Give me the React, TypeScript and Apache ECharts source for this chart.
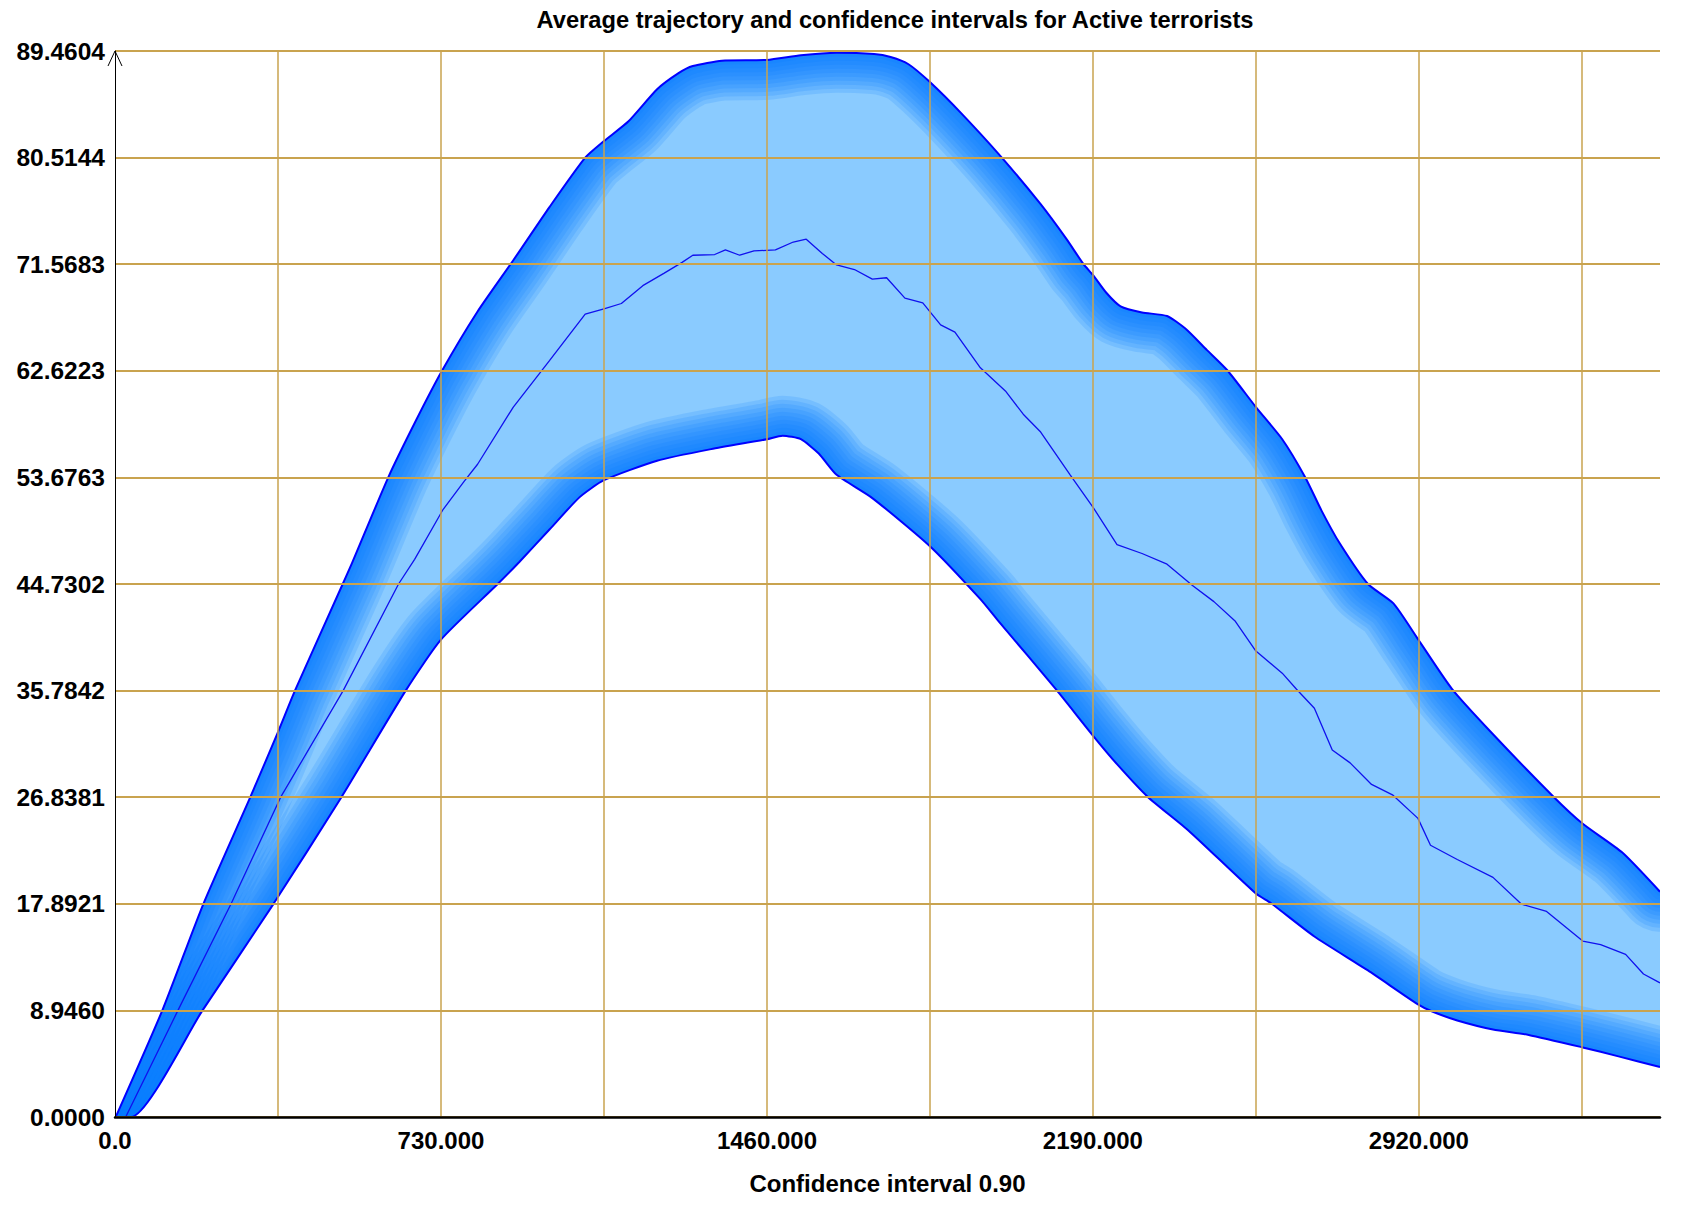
import React, { useEffect, useRef } from "react";
import * as echarts from "echarts";

// ---------- data ----------
const TITLE = "Average trajectory and confidence intervals for Active terrorists";
const X_NAME = "Confidence interval 0.90";

const X_MIN = 0;
const X_MAX = 3460;
const X_GRID_STEP = 365;
const X_LABEL_STEP = 730;

const Y_MIN = 0;
const Y_MAX = 89.46043;
const Y_DIVISIONS = 10;

// upper confidence bound [time, value]
const UPPER: [number, number][] = [
  [0, 0], [4, 0.2], [106, 8.95], [198, 17.89], [303, 26.84], [365, 32.3], [403, 35.78],
  [510, 44.73], [531, 46.5], [612, 53.68], [672, 58.3], [732, 62.6], [812, 67.6],
  [892, 71.9], [973, 76.36], [1053, 80.51], [1095, 81.9], [1150, 83.56], [1214, 86.25],
  [1262, 87.6], [1294, 88.2], [1359, 88.65], [1460, 88.71], [1536, 89.1], [1616, 89.31],
  [1700, 89.2], [1737, 88.95], [1777, 88.35], [1825, 86.85], [1897, 84.16], [1986, 80.51],
  [2073, 76.6], [2131, 73.67], [2169, 71.57], [2190, 70.67], [2220, 69.17], [2252, 68.03],
  [2300, 67.52], [2356, 67.22], [2397, 66.17], [2445, 64.38], [2491, 62.67], [2555, 59.58],
  [2614, 56.88], [2666, 53.65], [2702, 50.89], [2742, 48.19], [2806, 44.73], [2863, 43.1],
  [2918, 40.1], [2994, 35.93], [3086, 32.12], [3222, 26.86], [3287, 24.61], [3375, 22.21],
  [3460, 18.9],
];

// lower confidence bound [time, value]
const LOWER: [number, number][] = [
  [0, 0], [36, 0], [196, 8.95], [355, 17.89], [507, 26.84], [651, 35.78], [730, 40.06],
  [857, 44.73], [906, 46.6], [973, 49.3], [1040, 52.0], [1095, 53.44], [1214, 55.08],
  [1335, 56.05], [1460, 56.88], [1495, 57.18], [1536, 56.88], [1576, 55.68], [1616, 53.89],
  [1696, 51.94], [1825, 47.9], [1938, 43.46], [1979, 41.6], [2107, 35.9], [2190, 32.01],
  [2244, 29.61], [2313, 26.86], [2405, 24.01], [2555, 18.75], [2589, 17.94], [2686, 15.15],
  [2806, 12.3], [2918, 9.45], [2950, 8.85], [3006, 8.1], [3086, 7.34], [3166, 6.89],
  [3287, 5.84], [3367, 5.09], [3460, 4.19],
];

// average trajectory [time, value]
const MEAN: [number, number][] = [
  [24, 0], [141, 8.95], [260, 17.89], [371, 26.84], [511, 35.78], [635, 44.73], [671, 46.8],
  [735, 51.0], [781, 53.3], [812, 54.78], [892, 59.58], [973, 63.48], [1053, 67.37],
  [1095, 67.82], [1134, 68.27], [1182, 69.77], [1230, 70.82], [1270, 71.72], [1294, 72.32],
  [1343, 72.38], [1367, 72.77], [1399, 72.32], [1431, 72.68], [1479, 72.77], [1519, 73.43],
  [1548, 73.67], [1584, 72.47], [1616, 71.51], [1656, 71.12], [1696, 70.31], [1728, 70.43],
  [1769, 68.72], [1809, 68.33], [1849, 66.47], [1881, 65.87], [1938, 62.87], [1994, 60.93],
  [2034, 58.98], [2073, 57.48], [2139, 53.89], [2190, 51.19], [2244, 48.04], [2300, 47.29],
  [2356, 46.39], [2413, 44.6], [2461, 43.25], [2509, 41.6], [2555, 39.1], [2614, 37.25],
  [2646, 35.9], [2686, 34.3], [2726, 30.8], [2766, 29.72], [2814, 27.91], [2862, 27.01],
  [2918, 25.06], [2946, 22.81], [3006, 21.61], [3086, 20.11], [3150, 17.86], [3206, 17.25],
  [3287, 14.76], [3327, 14.46], [3383, 13.65], [3423, 12.0], [3460, 11.25],
];

// ---------- styles ----------
const FONT = "'Liberation Sans', Arial, sans-serif";
const GRID_COLOR = "#c9a34f";
const BAND_COLOR = "#8acbff";
const EDGE_SHADE = "rgba(0,122,255,0.15)";
const EDGE_LINE = "#0000ff";
const MEAN_COLOR = "#1010ee";
const EDGE_WIDTHS = [80, 72, 64, 56, 48, 40, 32, 24, 16, 8];
const SMOOTH = 0.2;

const W = 1692;
const H = 1208;
const GRID = { left: 115, right: 32, top: 51, bottom: 91 };

export default function App() {
  const ref = useRef<HTMLDivElement>(null);

  useEffect(() => {
    if (!ref.current) return;
    const chart = echarts.init(ref.current, null, { renderer: "svg" });

    const base = {
      type: "line",
      symbol: "none",
      showSymbol: false,
      silent: true,
      clip: true,
      smooth: SMOOTH,
      animation: false,
    };

    const series: any[] = [];
    // light-blue band body
    series.push({
      ...base,
      data: UPPER,
      lineStyle: { opacity: 0 },
      areaStyle: { color: BAND_COLOR, origin: "start", opacity: 1 },
      z: 1,
    });
    // darker shading along both bounds
    for (const w of EDGE_WIDTHS) {
      for (const d of [UPPER, LOWER]) {
        series.push({
          ...base,
          data: d,
          lineStyle: { width: w, color: EDGE_SHADE, join: "round", cap: "round" },
          z: 2,
        });
      }
    }
    // white masks outside the band
    series.push({
      ...base,
      data: UPPER,
      lineStyle: { opacity: 0 },
      areaStyle: { color: "#ffffff", origin: "end", opacity: 1 },
      z: 3,
    });
    series.push({
      ...base,
      data: LOWER,
      lineStyle: { opacity: 0 },
      areaStyle: { color: "#ffffff", origin: "start", opacity: 1 },
      z: 3,
    });
    // bound lines
    for (const d of [UPPER, LOWER]) {
      series.push({
        ...base,
        data: d,
        lineStyle: { width: 2, color: EDGE_LINE },
        z: 4,
      });
    }
    // mean trajectory
    series.push({
      ...base,
      smooth: false,
      data: MEAN,
      lineStyle: { width: 1.3, color: MEAN_COLOR },
      z: 4,
    });

    const yStep = (Y_MAX - Y_MIN) / Y_DIVISIONS;
    const plotRight = W - GRID.right;
    const plotBottom = H - GRID.bottom;

    // white frame outside the plot area, hiding the overflow of the wide shading strokes
    const frame = [
      { x: 0, y: 0, width: W, height: GRID.top },
      { x: 0, y: plotBottom, width: W, height: GRID.bottom },
      { x: 0, y: 0, width: GRID.left, height: H },
      { x: plotRight, y: 0, width: GRID.right, height: H },
    ].map((s) => ({
      type: "rect",
      z: 5,
      silent: true,
      shape: s,
      style: { fill: "#ffffff" },
    }));

    chart.setOption({
      animation: false,
      backgroundColor: "#ffffff",
      title: {
        text: TITLE,
        left: 890,
        top: 3,
        z: 20,
        textAlign: "center",
        textStyle: { fontFamily: FONT, fontSize: 23.7, fontWeight: "bold", color: "#000" },
      },
      grid: { ...GRID, containLabel: false },
      xAxis: {
        type: "value",
        min: X_MIN,
        max: X_MAX,
        interval: X_GRID_STEP,
        z: 10,
        name: X_NAME,
        nameLocation: "middle",
        nameGap: 54,
        nameTextStyle: { fontFamily: FONT, fontSize: 24, fontWeight: "bold", color: "#000" },
        axisLine: { show: true, onZero: false, lineStyle: { color: "#000", width: 2.5 } },
        axisTick: { show: false },
        splitLine: {
          show: true,
          showMinLine: false,
          showMaxLine: false,
          lineStyle: { color: GRID_COLOR, width: 1.5 },
        },
        axisLabel: {
          margin: 11,
          fontFamily: FONT,
          fontSize: 24,
          fontWeight: "bold",
          color: "#000",
          showMaxLabel: false,
          formatter: (v: number) =>
            v === 0 ? "0.0" : Math.abs(v % X_LABEL_STEP) < 1e-6 ? v.toFixed(3) : "",
        },
      },
      yAxis: {
        type: "value",
        min: Y_MIN,
        max: Y_MAX,
        interval: yStep,
        z: 10,
        axisLine: { show: true, lineStyle: { color: "#000", width: 1 } },
        axisTick: { show: false },
        splitLine: { show: true, lineStyle: { color: GRID_COLOR, width: 2 } },
        axisLabel: {
          margin: 10,
          fontFamily: FONT,
          fontSize: 24.5,
          fontWeight: "bold",
          color: "#000",
          formatter: (v: number) => v.toFixed(4),
        },
      },
      graphic: [
        ...frame,
        {
          type: "polyline",
          z: 100,
          shape: { points: [[108, 66], [115, 51], [122, 66]] },
          style: { stroke: "#000", lineWidth: 1, fill: "none" },
        },
      ],
      series,
    });

    return () => chart.dispose();
  }, []);

  return (
    <div
      ref={ref}
      style={{ position: "absolute", left: 0, top: 0, width: W, height: H }}
    />
  );
}
